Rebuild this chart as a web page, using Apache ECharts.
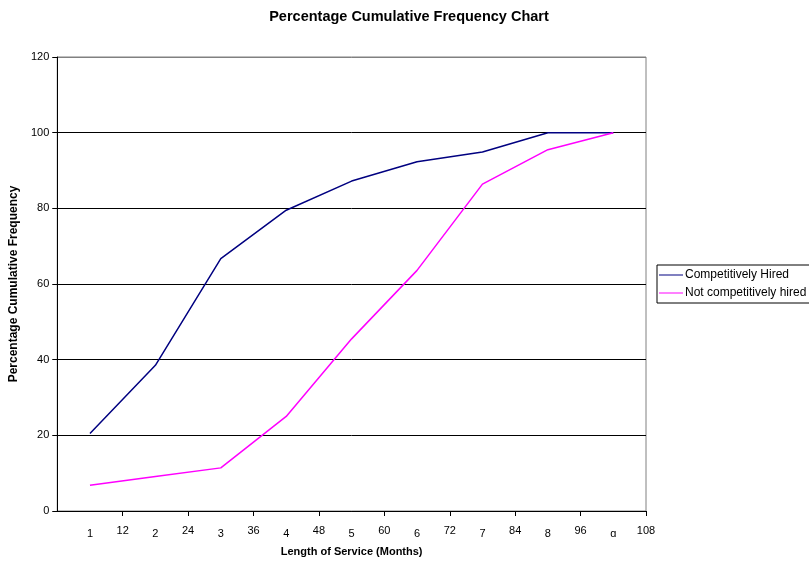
<!DOCTYPE html>
<html>
<head>
<meta charset="utf-8">
<script src="https://cdn.jsdelivr.net/npm/echarts@6/dist/echarts.min.js"></script>
<style>
  html, body { margin: 0; padding: 0; background: #fff; }
  #chart { width: 809px; height: 565px; }
</style>
</head>
<body>
<div id="chart"></div>
<script>
// Bins (class labels) and cumulative percentages per bin
const bins = ['1', '2', '3', '4', '5', '6', '7', '8', 'ɑ'];
const competitivelyHired = [20.5, 38.5, 66.7, 79.5, 87.2, 92.3, 94.9, 100, 100];
const notCompetitivelyHired = [6.8, 9.1, 11.4, 25.0, 45.5, 63.6, 86.4, 95.5, 100];
const monthTicks = [0, 12, 24, 36, 48, 60, 72, 84, 96, 108];
const seriesNames = ['Competitively Hired', 'Not competitively hired'];

const font = 'Liberation Sans, Arial, sans-serif';
const chart = echarts.init(document.getElementById('chart'));

chart.setOption({
  animation: false,
  backgroundColor: '#fff',
  textStyle: { fontFamily: font },
  title: {
    text: 'Percentage Cumulative Frequency Chart',
    left: 404,
    textAlign: 'center',
    top: 4,
    textStyle: { fontFamily: font, fontSize: 14.5, fontWeight: 'bold', color: '#000' }
  },
  legend: {
    orient: 'vertical',
    left: 657,
    top: 265,
    padding: [4, 6, 4, 2],
    itemGap: 6,
    itemWidth: 24,
    itemHeight: 10,
    borderColor: '#000',
    borderWidth: 1,
    borderRadius: 0,
    icon: 'path://M0,4.5L24,4.5L24,5.5L0,5.5Z',
    textStyle: { fontFamily: font, fontSize: 12, color: '#000', padding: [0, 0, 0, -3] },
    data: seriesNames
  },
  grid: {
    left: 56, right: 163, top: 57, bottom: 54,
    show: true,
    borderColor: '#808080',
    borderWidth: 1
  },
  xAxis: [
    {
      type: 'value',
      min: monthTicks[0],
      max: monthTicks[monthTicks.length - 1],
      interval: 12,
      position: 'bottom',
      name: 'Length of Service (Months)',
      nameLocation: 'middle',
      nameGap: 35,
      nameTextStyle: { fontFamily: font, fontSize: 11, fontWeight: 'bold', color: '#000' },
      axisLine: { show: true, lineStyle: { color: '#000', width: 1 } },
      axisTick: { show: true, length: 5, lineStyle: { color: '#000' } },
      axisLabel: {
        showMinLabel: false,
        margin: 14,
        fontFamily: font, fontSize: 11, color: '#000'
      },
      splitLine: { show: false }
    },
    {
      type: 'category',
      data: bins,
      boundaryGap: true,
      position: 'bottom',
      axisLine: { show: false },
      axisTick: { show: false },
      axisLabel: { margin: 17, fontFamily: font, fontSize: 11, color: '#000' },
      splitLine: { show: false }
    }
  ],
  yAxis: {
    type: 'value',
    min: 0,
    max: 120,
    interval: 20,
    name: 'Percentage Cumulative Frequency',
    nameLocation: 'middle',
    nameGap: 35,
    nameTextStyle: { fontFamily: font, fontSize: 12, fontWeight: 'bold', color: '#000' },
    axisLine: { show: true, lineStyle: { color: '#000', width: 1 } },
    axisTick: { show: true, length: 5, lineStyle: { color: '#000' } },
    axisLabel: { margin: 8, fontFamily: font, fontSize: 11, color: '#000' },
    splitLine: {
      show: true,
      lineStyle: { color: ['#000', '#000', '#000', '#000', '#000', '#000', '#808080'], width: 1 }
    }
  },
  series: [
    {
      name: seriesNames[0],
      type: 'line',
      xAxisIndex: 1,
      data: competitivelyHired,
      symbol: 'none',
      color: '#000080',
      lineStyle: { color: '#000080', width: 1.5 }
    },
    {
      name: seriesNames[1],
      type: 'line',
      xAxisIndex: 1,
      data: notCompetitivelyHired,
      symbol: 'none',
      color: '#ff00ff',
      lineStyle: { color: '#ff00ff', width: 1.5 }
    }
  ]
});
</script>
</body>
</html>
